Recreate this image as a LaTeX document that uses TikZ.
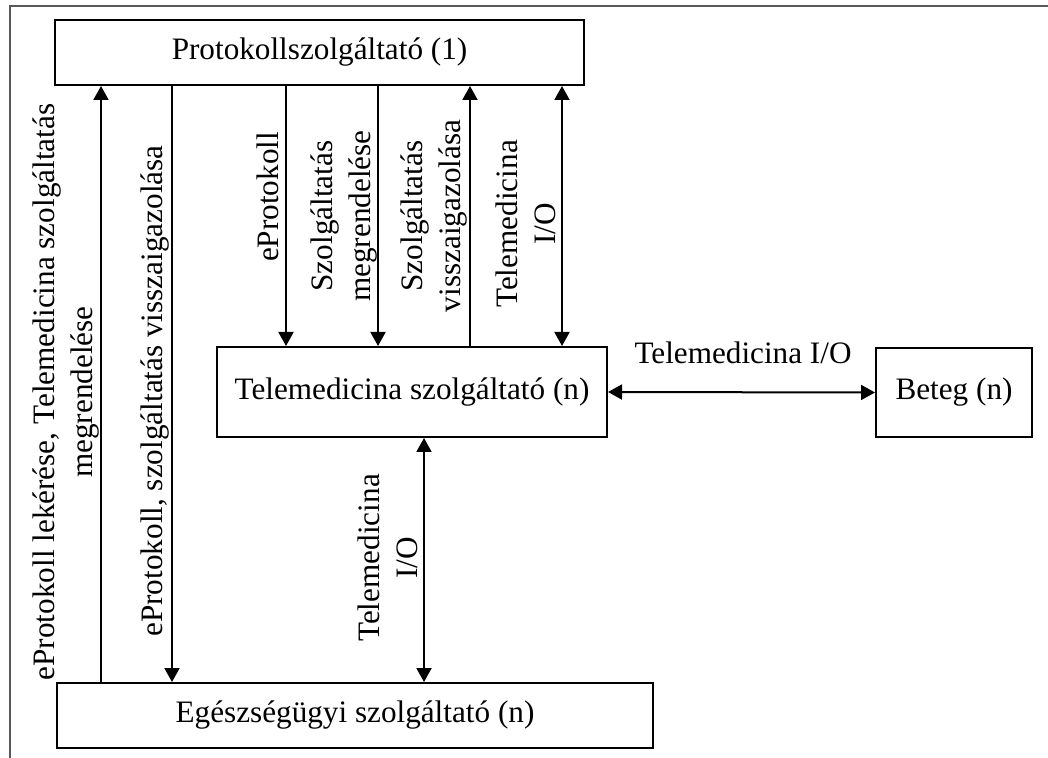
\documentclass[tikz,border=0pt]{standalone}
\usepackage{fontspec}
\setmainfont{Liberation Serif}
\usetikzlibrary{arrows.meta,calc}
\begin{document}
\begin{tikzpicture}[x=0.5pt,y=-0.5pt,
  txt/.style={font=\fontsize{15.6}{18.7}\selectfont},
  box/.style={draw,line width=1pt,inner sep=0pt,txt},
  lbl/.style={rotate=90,align=center,inner sep=0pt,txt},
  hlbl/.style={align=center,inner sep=0pt,txt},
  arr/.style={line width=1pt,-{Triangle[length=7pt,width=7.5pt]}},
  darr/.style={line width=1pt,{Triangle[length=7pt,width=7.5pt]}-{Triangle[length=7pt,width=7.5pt]}},
  frame/.style={draw=black!65,line width=1pt}]
\useasboundingbox (0,0) rectangle (1048,758);
% partial frame
\coordinate (fc) at (9.5,6.5);
\coordinate (fr) at (1048,6.5);
\coordinate (fb) at (9.5,758);
\draw[frame] (fr) -- (fc) -- (fb);
% boxes
\node[box,minimum width=264.5pt,minimum height=32.5pt] (P) at (319.5,52.5) {Protokollszolgáltató (1)};
\node[box,minimum width=195pt,minimum height=45pt] (T) at (412,392) {Telemedicina szolgáltató (n)};
\node[box,minimum width=78pt,minimum height=44.5pt] (B) at (954,392.5) {Beteg (n)};
\node[box,minimum width=298pt,minimum height=32.5pt] (E) at (355,715.5) {Egészségügyi szolgáltató (n)};
% x positions of vertical connectors
\coordinate (x1) at (101,0);
\coordinate (x2) at (172,0);
\coordinate (x3) at (286,0);
\coordinate (x4) at (378,0);
\coordinate (x5) at (470,0);
\coordinate (x6) at (562,0);
\coordinate (x7) at (424,0);
% connectors
\draw[arr] (E.north -| x1) -- (P.south -| x1);
\draw[arr] (P.south -| x2) -- (E.north -| x2);
\draw[arr] (P.south -| x3) -- (T.north -| x3);
\draw[arr] (P.south -| x4) -- (T.north -| x4);
\draw[arr] (T.north -| x5) -- (P.south -| x5);
\draw[darr] (T.north -| x6) -- (P.south -| x6);
\draw[darr] (T.south -| x7) -- (E.north -| x7);
\draw[darr] (T.east) -- (B.west);
% labels
\node[lbl] (l1) at (66,392) {eProtokoll lekérése, Telemedicina szolgáltatás\\megrendelése};
\node[lbl] (l2) at (155,391) {eProtokoll, szolgáltatás visszaigazolása};
\node[lbl] (l3) at (268,197) {eProtokoll};
\node[lbl] (l4) at (344,216) {Szolgáltatás\\megrendelése};
\node[lbl] (l5) at (434,216) {Szolgáltatás\\visszaigazolása};
\node[lbl] (l6) at (526,224) {Telemedicina\\I/O};
\node[lbl] (l7) at (388,558) {Telemedicina\\I/O};
\node[hlbl] (l8) at (743,353) {Telemedicina I/O};
\end{tikzpicture}
\end{document}
